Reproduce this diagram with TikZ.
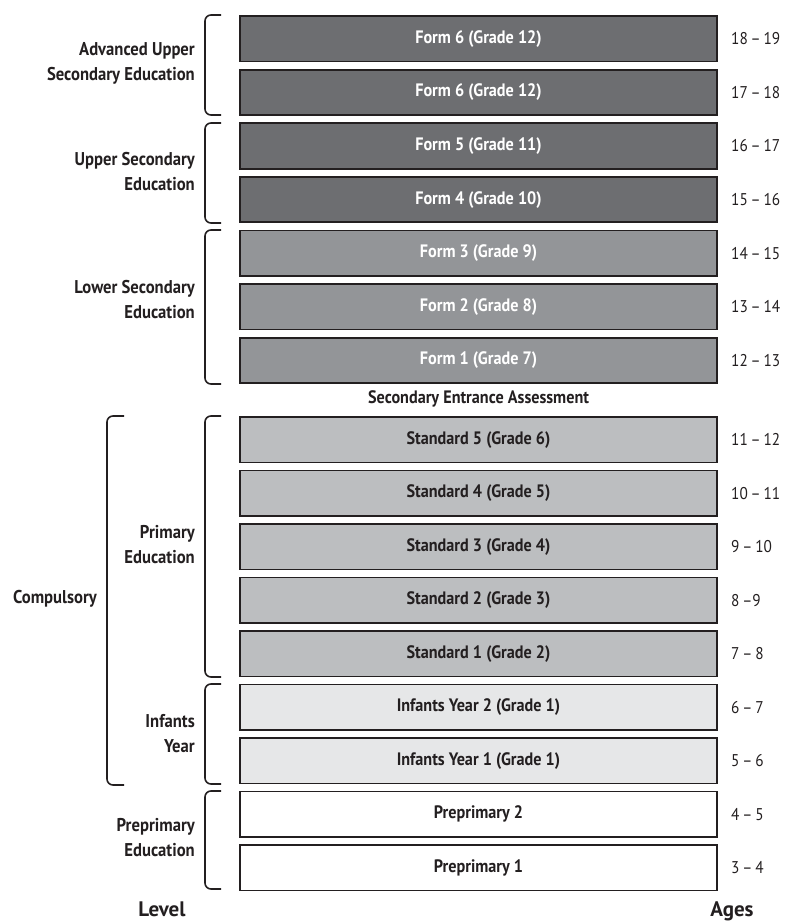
\documentclass[tikz,border=0pt]{standalone}
\usepackage{fontspec}
\setmainfont{PT Sans}[FakeStretch=0.9]
\newfontfamily\widefont{PT Sans}
\definecolor{darkfill}{HTML}{6D6E71}
\definecolor{midfill}{HTML}{939598}
\definecolor{lightfill}{HTML}{BCBEC0}
\definecolor{paleFill}{HTML}{E6E7E8}
\definecolor{inkc}{HTML}{231F20}
\tikzset{
  stage/.style={draw=inkc, line width=1.8pt, minimum width=477pt, minimum height=45.5pt, inner sep=0pt, font=\fontsize{18}{20}\selectfont\bfseries},
  darkstage/.style={stage, fill=darkfill, text=white},
  midstage/.style={stage, fill=midfill, text=white},
  lightstage/.style={stage, fill=lightfill, text=inkc},
  palestage/.style={stage, fill=paleFill, text=inkc},
  whitestage/.style={stage, fill=white, text=inkc},
  agelabel/.style={anchor=west, font=\fontsize{17}{18}\selectfont, text=inkc, inner sep=0pt},
  levellabel/.style={anchor=east, align=right, font=\fontsize{18.5}{25}\selectfont\bfseries, text=inkc, inner sep=0pt},
  bracket/.style={draw=inkc, line width=1.6pt, rounded corners=6pt},
  heading/.style={anchor=base, font=\widefont\fontsize{21}{24}\selectfont\bfseries, text=inkc, inner sep=0pt}
}
\begin{document}
\begin{tikzpicture}[x=1pt,y=-1pt]
\useasboundingbox (0,0) rectangle (785,922);
% upper rows
\node[darkstage] (r1) at (478.5,38.75) {Form 6 (Grade 12)};
\node[darkstage] (r2) at (478.5,92.35) {Form 6 (Grade 12)};
\node[darkstage] (r3) at (478.5,145.95) {Form 5 (Grade 11)};
\node[darkstage] (r4) at (478.5,199.55) {Form 4 (Grade 10)};
\node[midstage] (r5) at (478.5,253.15) {Form 3 (Grade 9)};
\node[midstage] (r6) at (478.5,306.75) {Form 2 (Grade 8)};
\node[midstage] (r7) at (478.5,360.35) {Form 1 (Grade 7)};
\node[font=\fontsize{18}{20}\selectfont\bfseries, text=inkc, inner sep=0pt] (sea) at (478.5,399) {Secondary Entrance Assessment};
% lower rows
\node[lightstage] (s1) at (478.5,439.75) {Standard 5 (Grade 6)};
\node[lightstage] (s2) at (478.5,493.25) {Standard 4 (Grade 5)};
\node[lightstage] (s3) at (478.5,546.75) {Standard 3 (Grade 4)};
\node[lightstage] (s4) at (478.5,600.25) {Standard 2 (Grade 3)};
\node[lightstage] (s5) at (478.5,653.75) {Standard 1 (Grade 2)};
\node[palestage] (s6) at (478.5,707.25) {Infants Year 2 (Grade 1)};
\node[palestage] (s7) at (478.5,760.75) {Infants Year 1 (Grade 1)};
\node[whitestage] (s8) at (478.5,814.25) {Preprimary 2};
\node[whitestage] (s9) at (478.5,867.75) {Preprimary 1};
% ages
\node[agelabel] (a1) at (731,38.75) {18\,–\,19};
\node[agelabel] (a2) at (731,92.35) {17\,–\,18};
\node[agelabel] (a3) at (731,145.95) {16\,–\,17};
\node[agelabel] (a4) at (731,199.55) {15\,–\,16};
\node[agelabel] (a5) at (731,253.15) {14\,–\,15};
\node[agelabel] (a6) at (731,306.75) {13\,–\,14};
\node[agelabel] (a7) at (731,360.35) {12\,–\,13};
\node[agelabel] (b1) at (731,439.75) {11\,–\,12};
\node[agelabel] (b2) at (731,493.25) {10\,–\,11};
\node[agelabel] (b3) at (731,546.75) {9\,–\,10};
\node[agelabel] (b4) at (731,600.25) {8\,–9};
\node[agelabel] (b5) at (731,653.75) {7\,–\,8};
\node[agelabel] (b6) at (731,707.25) {6\,–\,7};
\node[agelabel] (b7) at (731,760.75) {5\,–\,6};
\node[agelabel] (b8) at (731,814.25) {4\,–\,5};
\node[agelabel] (b9) at (731,867.75) {3\,–\,4};
% level labels
\node[levellabel] (l1) at (195,63) {Advanced Upper\\Secondary Education};
\node[levellabel] (l2) at (195,172) {Upper Secondary\\Education};
\node[levellabel] (l3) at (195,300) {Lower Secondary\\Education};
\node[levellabel] (l4) at (195,545) {Primary\\Education};
\node[levellabel] (l5) at (195,734) {Infants\\Year};
\node[levellabel] (l6) at (195,838) {Preprimary\\Education};
\node[levellabel] (l7) at (97,599) {Compulsory};
% brackets
\draw[bracket] (221,15) -- (205,15) -- (205,115) -- (221,115);
\draw[bracket] (221,123) -- (205,123) -- (205,223) -- (221,223);
\draw[bracket] (221,230) -- (205,230) -- (205,384) -- (221,384);
\draw[bracket] (221,416) -- (205,416) -- (205,677) -- (221,677);
\draw[bracket] (221,684) -- (205,684) -- (205,784) -- (221,784);
\draw[bracket] (221,791) -- (205,791) -- (205,889) -- (221,889);
\draw[bracket] (124,416) -- (107,416) -- (107,785) -- (124,785);
% headings
\node[heading] (lev) at (162,916) {Level};
\node[heading] (age) at (732,916) {Ages};
\end{tikzpicture}
\end{document}
